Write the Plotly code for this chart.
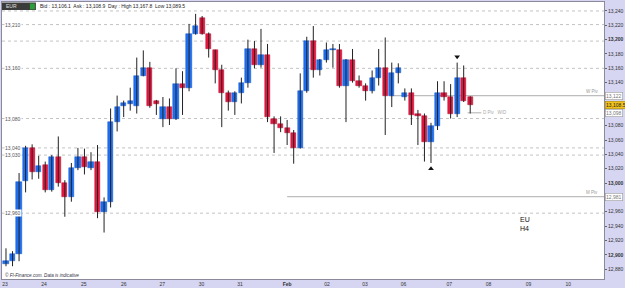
import plotly.graph_objects as go

# ---------------- data ----------------
opens = [12887, 12891, 12901, 13003, 13049, 13016, 13025, 12991, 13036, 13000,
         12981, 13021, 13036, 13021, 13029, 12960, 12974, 13085, 13107, 13110,
         13108, 13150, 13160, 13114, 13090, 13106, 13090, 13138, 13132, 13208,
         13230, 13208, 13186, 13157, 13126, 13113, 13125, 13139, 13187, 13164,
         13179, 13090, 13083, 13077, 13070, 13049, 13129, 13198, 13158, 13171,
         13185, 13186, 13136, 13171, 13143, 13136, 13128, 13147, 13161, 13122,
         13153, 13120, 13125, 13097, 13093, 13057, 13079, 13125, 13120, 13097,
         13147, 13120]
highs = [12909, 12905, 13014, 13052, 13054, 13038, 13030, 13039, 13065, 13004,
         13028, 13049, 13048, 13043, 13053, 12980, 13104, 13122, 13115, 13133,
         13175, 13185, 13169, 13116, 13120, 13118, 13160, 13156, 13222, 13236,
         13233, 13210, 13186, 13165, 13129, 13128, 13147, 13200, 13198, 13215,
         13194, 13093, 13093, 13088, 13074, 13153, 13204, 13219, 13173, 13196,
         13194, 13194, 13173, 13187, 13150, 13139, 13157, 13187, 13203, 13168,
         13167, 13132, 13132, 13102, 13097, 13084, 13142, 13142, 13138, 13168,
         13164, 13121]
lows = [12884, 12884, 12891, 12987, 13005, 13006, 12987, 12988, 12995, 12953,
        12974, 13018, 13012, 13018, 12951, 12931, 12966, 13072, 13092, 13101,
        13097, 13149, 13105, 13095, 13078, 13081, 13088, 13095, 13128, 13207,
        13207, 13175, 13139, 13078, 13101, 13095, 13111, 13133, 13160, 13161,
        13085, 13042, 13071, 13053, 13027, 13048, 13126, 13147, 13150, 13168,
        13161, 13133, 13085, 13140, 13133, 13115, 13125, 13136, 13067, 13106,
        13139, 13115, 13081, 13053, 13030, 13028, 13074, 13115, 13090, 13092,
        13113, 13097]
closes = [12892, 12901, 13002, 13049, 13016, 13024, 12991, 13036, 13000, 12981,
          13021, 13036, 13023, 13029, 12960, 12974, 13085, 13106, 13111, 13115,
          13150, 13160, 13108, 13110, 13106, 13090, 13138, 13133, 13208, 13219,
          13208, 13187, 13158, 13126, 13113, 13125, 13139, 13187, 13164, 13179,
          13092, 13083, 13077, 13070, 13049, 13129, 13198, 13158, 13171, 13186,
          13187, 13136, 13171, 13143, 13136, 13128, 13147, 13161, 13122, 13153,
          13160, 13125, 13095, 13093, 13057, 13079, 13125, 13120, 13097, 13147,
          13115, 13108.5]
bar_index = list(range(len(opens)))

price_ticks = list(range(12880, 13241, 20))
hidden_ticks = [12980, 13100, 13120]          # covered by the tag boxes in the picture
day_labels = ["23", "24", "25", "26", "27", "30", "31", "<b>Feb</b>",
              "02", "03", "06", "07", "08", "09", "10"]

level_prices = [13240, 13221, 13198, 13160, 13090, 13049, 13039, 12958]
level_labels = ["", "13,210", "", "13,160", "13,080", "13,040", "13,030", "12,960"]

pivot_names = ["W Piv", "M Piv"]
pivot_prices = [13122, 12981]
pivot_tags = ["13,122", "12,981"]
daily_pivot_price = 13098
daily_pivot_tag = "13,098"
last_price = 13108.5
last_tag = "13,108.5"

signal_up_bar, signal_up_price = 65, 13020
signal_dn_bar, signal_dn_price = 69, 13176

header_text = "Bid : 13,106.1  Ask : 13,108.9  Day : High 13,167.8  Low 13,089.5"
footer_text = "© FI-Finance.com. Data is indicative"

# ---------------- layout geometry ----------------
W, H = 625, 288
ML, MR, MT, MB = 1, 20, 1, 8
X_RANGE = [-0.61, 91.46]
Y_RANGE = [12866.2, 13252.5]
day_tick_bars = [-0.15, 5.8, 11.9, 18.0, 23.9, 29.9, 35.8, 43.0,
                 49.1, 54.9, 60.8, 67.8, 73.8, 79.9, 86.0]
w_piv_start, m_piv_start = 58.7, 43.0
d_piv_span = [70.6, 72.7]

FONT = "Liberation Sans, Arial, sans-serif"
BLUE, RED = "#1f6ff0", "#e5173f"
BLUE_EDGE, RED_EDGE = "#0d53c8", "#b50c2e"
LAV = "#d6d6f2"


def px_x(px):
    return (px - ML) / (W - ML - MR)


def px_y(py):
    return 1 - (py - MT) / (H - MT - MB)


up = [c >= o for o, c in zip(opens, closes)]
body_base = [min(o, c) for o, c in zip(opens, closes)]
body_h = [max(abs(c - o), 1.4) for o, c in zip(opens, closes)]

wx, wy = [], []
for i, h, l in zip(bar_index, highs, lows):
    wx += [i, i, None]
    wy += [l, h, None]

fig = go.Figure()
fig.add_trace(go.Scatter(x=wx, y=wy, mode="lines",
                         line=dict(color="#222222", width=1),
                         hoverinfo="skip", showlegend=False))
fig.add_trace(go.Bar(x=bar_index, y=body_h, base=body_base, width=0.8,
                     marker=dict(color=[BLUE if u else RED for u in up],
                                 line=dict(color=[BLUE_EDGE if u else RED_EDGE for u in up],
                                           width=0.5)),
                     hoverinfo="skip", showlegend=False))
fig.add_trace(go.Scatter(x=[signal_up_bar], y=[signal_up_price], mode="markers",
                         marker=dict(symbol="triangle-up", size=5, color="#111"),
                         hoverinfo="skip", showlegend=False))
fig.add_trace(go.Scatter(x=[signal_dn_bar], y=[signal_dn_price], mode="markers",
                         marker=dict(symbol="triangle-down", size=5, color="#111"),
                         hoverinfo="skip", showlegend=False))

shapes = []
for p in level_prices:
    shapes.append(dict(type="line", xref="paper", x0=0, x1=1, yref="y", y0=p, y1=p,
                       line=dict(color="#b4b4b4", width=0.8, dash="dot"), layer="below"))
for name, p, start in zip(pivot_names, pivot_prices, [w_piv_start, m_piv_start]):
    shapes.append(dict(type="line", xref="x", x0=start, x1=X_RANGE[1], yref="y", y0=p, y1=p,
                       line=dict(color="#bdbdbd", width=1.2), layer="below"))
shapes.append(dict(type="line", xref="x", x0=d_piv_span[0], x1=d_piv_span[1], yref="y",
                   y0=daily_pivot_price, y1=daily_pivot_price,
                   line=dict(color="#bdbdbd", width=1.2), layer="below"))
# header dark box
shapes.append(dict(type="rect", xref="paper", yref="paper", x0=px_x(1), x1=px_x(35),
                   y0=px_y(9), y1=px_y(1.5), fillcolor="#3b3b3b", line=dict(width=0)))
shapes.append(dict(type="rect", xref="paper", yref="paper", x0=px_x(29), x1=px_x(34),
                   y0=px_y(8.5), y1=px_y(2.5), fillcolor="#2e9e3a", line=dict(width=0)))

ann = []
for p, t in zip(level_prices, level_labels):
    if t:
        ann.append(dict(xref="paper", x=px_x(3), yref="y", y=p, text=t, showarrow=False,
                        xanchor="left", yanchor="middle", bgcolor="white", borderpad=0,
                        font=dict(family=FONT, size=5, color="#555")))
for name, p, tag in zip(pivot_names, pivot_prices, pivot_tags):
    ann.append(dict(xref="paper", x=px_x(601), yref="y", y=p, text=name, showarrow=False,
                    xanchor="right", yanchor="bottom", font=dict(family=FONT, size=4.5, color="#999")))
    ann.append(dict(xref="paper", x=1, xshift=1, yref="y", y=p, text=tag, showarrow=False,
                    xanchor="left", yanchor="middle", bgcolor="white", bordercolor="#999",
                    borderwidth=0.6, borderpad=0.5, font=dict(family=FONT, size=5, color="#777")))
ann.append(dict(xref="x", x=d_piv_span[1], yref="y", y=daily_pivot_price,
                text="D Piv   W/D", showarrow=False, xanchor="left", yanchor="middle",
                font=dict(family=FONT, size=4.5, color="#aaa")))
ann.append(dict(xref="paper", x=1, xshift=1, yref="y", y=daily_pivot_price, text=daily_pivot_tag,
                showarrow=False, xanchor="left", yanchor="middle", bgcolor="white",
                bordercolor="#999", borderwidth=0.6, borderpad=0.5,
                font=dict(family=FONT, size=5, color="#777")))
ann.append(dict(xref="paper", x=1, xshift=1, yref="y", y=last_price, text=last_tag,
                showarrow=False, xanchor="left", yanchor="middle", bgcolor="#f2c31b",
                bordercolor="#b08a00", borderwidth=0.6, borderpad=0.5,
                font=dict(family=FONT, size=5, color="#222")))
ann.append(dict(xref="paper", x=px_x(3), yref="paper", y=px_y(5.3), text="EUR",
                showarrow=False, xanchor="left", yanchor="middle",
                font=dict(family=FONT, size=5, color="#e0e0e0")))
ann.append(dict(xref="paper", x=px_x(37), yref="paper", y=px_y(5.3), text=header_text,
                showarrow=False, xanchor="left", yanchor="middle",
                font=dict(family=FONT, size=5, color="#222")))
ann.append(dict(xref="paper", x=px_x(2), yref="paper", y=px_y(276), text="<i>" + footer_text + "</i>",
                showarrow=False, xanchor="left", yanchor="middle",
                font=dict(family=FONT, size=4.6, color="#334")))
ann.append(dict(xref="paper", x=px_x(519), yref="paper", y=px_y(225), text="EU<br>H4",
                showarrow=False, xanchor="left", yanchor="middle", align="left",
                font=dict(family=FONT, size=7, color="#111")))


def tick_label(v):
    if v in hidden_ticks:
        return ""
    s = f"{v:,}"
    return f"<b>{s}</b>" if v % 100 == 0 else s


tick_text = [tick_label(v) for v in price_ticks]

fig.update_layout(
    width=W, height=H,
    margin=dict(l=ML, r=MR, t=MT, b=MB),
    paper_bgcolor=LAV, plot_bgcolor="white",
    barmode="overlay", bargap=0, showlegend=False,
    shapes=shapes, annotations=ann,
    xaxis=dict(range=X_RANGE, tickmode="array", tickvals=day_tick_bars, ticktext=day_labels,
               showgrid=False, zeroline=False, showline=True, linecolor="#8a8a9a", linewidth=1,
               mirror=True, ticks="", tickfont=dict(family=FONT, size=5, color="#333")),
    yaxis=dict(range=Y_RANGE, side="right", tickmode="array", tickvals=price_ticks,
               ticktext=tick_text, showgrid=False, zeroline=False, showline=True,
               linecolor="#8a8a9a", linewidth=1, mirror=True, ticks="outside", ticklen=2,
               tickcolor="#666", tickfont=dict(family=FONT, size=5, color="#333")),
)

fig.write_html("out.html")
